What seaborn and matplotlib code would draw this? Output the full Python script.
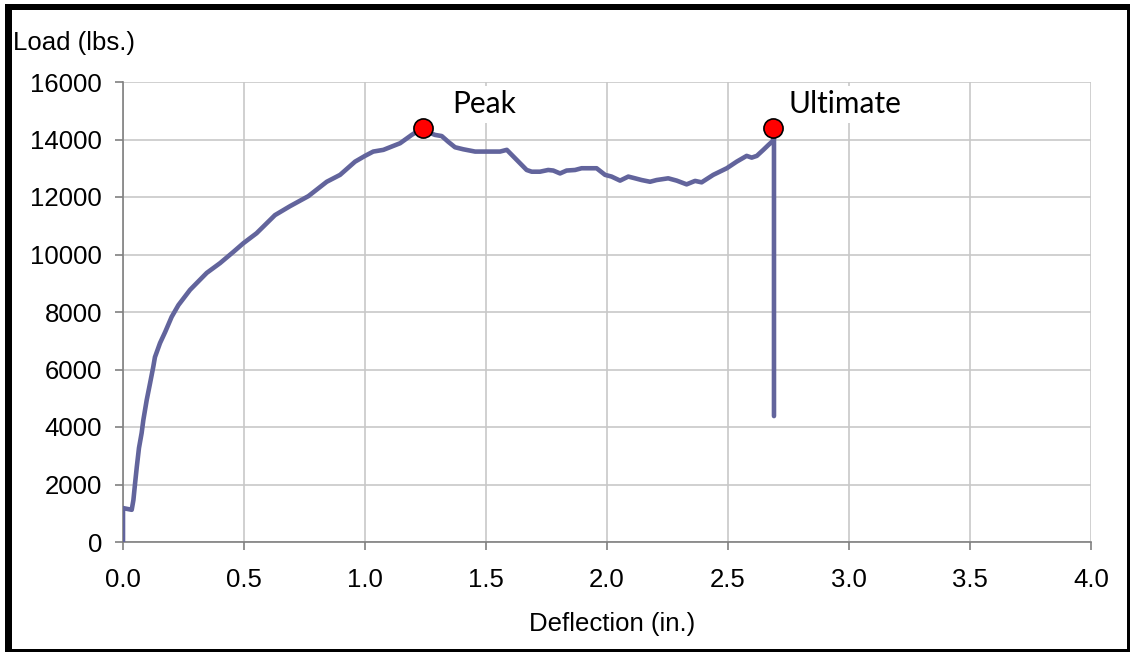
import matplotlib
matplotlib.use("Agg")
import matplotlib.pyplot as plt
from matplotlib.patches import Rectangle
import pandas as pd
import seaborn as sns

# Load-deflection record of the test specimen
deflection = [0.000, 0.000, 0.036, 0.043, 0.050, 0.057, 0.066, 0.077, 0.084, 0.098,
              0.112, 0.125, 0.132, 0.153, 0.174, 0.201, 0.229, 0.277, 0.346, 0.401,
              0.456, 0.497, 0.552, 0.628, 0.690, 0.766, 0.842, 0.897, 0.959, 1.000,
              1.034, 1.076, 1.145, 1.193, 1.214, 1.248, 1.289, 1.317, 1.344, 1.372,
              1.406, 1.455, 1.558, 1.586, 1.627, 1.668, 1.689, 1.723, 1.757, 1.778,
              1.806, 1.833, 1.868, 1.895, 1.957, 1.992, 2.019, 2.054, 2.088, 2.116,
              2.143, 2.178, 2.205, 2.253, 2.288, 2.329, 2.364, 2.391, 2.439, 2.495,
              2.536, 2.577, 2.598, 2.619, 2.646, 2.667, 2.685, 2.690, 2.690]
load = [0, 1180, 1120, 1460, 2050, 2610, 3270, 3790, 4240, 4940,
        5530, 6090, 6430, 6920, 7300, 7830, 8240, 8770, 9360, 9700,
        10090, 10390, 10740, 11370, 11680, 12030, 12530, 12770, 13230, 13430,
        13580, 13640, 13870, 14160, 14270, 14300, 14160, 14120, 13920, 13730,
        13660, 13580, 13580, 13640, 13290, 12940, 12880, 12880, 12940, 12920,
        12820, 12920, 12940, 13000, 13000, 12770, 12710, 12570, 12710, 12650,
        12590, 12530, 12590, 12650, 12570, 12440, 12560, 12510, 12770, 13000,
        13230, 13430, 13370, 13430, 13640, 13810, 13950, 14120, 4380]

# Marked points
point_names = ["Peak", "Ultimate"]
point_deflection = [1.238, 2.685]
point_load = [14400, 14400]

x_ticks = [0.0, 0.5, 1.0, 1.5, 2.0, 2.5, 3.0, 3.5, 4.0]
y_ticks = [0, 2000, 4000, 6000, 8000, 10000, 12000, 14000, 16000]

curve = pd.DataFrame({"deflection": deflection, "load": load})
points = pd.DataFrame({"name": point_names, "deflection": point_deflection,
                       "load": point_load})

# Label offsets (points) from each marker
label_offsets = {"Peak": (21, 17), "Ultimate": (11.5, 17)}

sns.set_theme(style="white")
plt.rcParams["font.family"] = ["Liberation Sans", "DejaVu Sans"]
plt.rcParams["text.color"] = "black"
plt.rcParams["xtick.labelcolor"] = "black"
plt.rcParams["ytick.labelcolor"] = "black"
plt.rcParams["axes.labelcolor"] = "black"

W, H = 1132, 652
fig = plt.figure(figsize=(W / 100, H / 100), dpi=100)
ax = fig.add_axes([123 / W, 1 - 542 / H, (1091 - 123) / W, (542 - 82) / H])

grid_color = "#c8c8c8"
for xv in x_ticks:
    ax.axvline(xv, color=grid_color, lw=1.2, zorder=0)
for yv in y_ticks:
    ax.axhline(yv, color=grid_color, lw=1.2, zorder=0)

sns.lineplot(data=curve, x="deflection", y="load", sort=False, estimator=None,
             color="#62649c", lw=3.3, ax=ax, zorder=3)
sns.scatterplot(data=points, x="deflection", y="load", color="#ff0000",
                edgecolor="black", linewidth=1.2, s=190, ax=ax, zorder=5,
                legend=False)

for _, row in points.iterrows():
    ax.annotate(row["name"], (row["deflection"], row["load"]),
                xytext=label_offsets[row["name"]], textcoords="offset points",
                ha="left", va="center", fontsize=21.5,
                family=["Lato", "DejaVu Sans"], color="black", zorder=6,
                bbox=dict(boxstyle="square,pad=0.15", fc="white", ec="none"))

ax.set_xlim(0, 4.0)
ax.set_ylim(0, 16000)
ax.set_xticks(x_ticks)
ax.set_xticklabels([f"{v:.1f}" for v in x_ticks])
ax.set_yticks(y_ticks)
ax.set_yticklabels([str(v) for v in y_ticks])
ax.tick_params(axis="both", which="major", labelsize=18.5, length=6, width=1.2,
               color="#808080", direction="out", left=True, bottom=True,
               labelcolor="black")
ax.tick_params(axis="y", pad=9)
ax.tick_params(axis="x", pad=13)

for side in ["top", "right"]:
    ax.spines[side].set_visible(False)
for side in ["left", "bottom"]:
    ax.spines[side].set_color("#808080")
    ax.spines[side].set_linewidth(1.2)

ax.set_xlabel("Deflection (in.)", fontsize=18.5, color="black")
ax.xaxis.set_label_coords(0.505, -0.152)
ax.set_ylabel("")
fig.text(13 / W, 1 - 43 / H, "Load (lbs.)", fontsize=18.5, ha="left",
         va="center", color="black")

# Frame around the chart area (heavier on top and left)
def px_rect(x0, y0, x1, y1):
    fig.add_artist(Rectangle((x0 / W, 1 - y1 / H), (x1 - x0) / W, (y1 - y0) / H,
                             transform=fig.transFigure, facecolor="black",
                             edgecolor="none", zorder=10))

px_rect(5, 4, 1130, 10)
px_rect(5, 4, 12, 652)
px_rect(1127, 4, 1130, 652)
px_rect(5, 649, 1130, 652)

fig.savefig("out.png", dpi=100, facecolor="white")
